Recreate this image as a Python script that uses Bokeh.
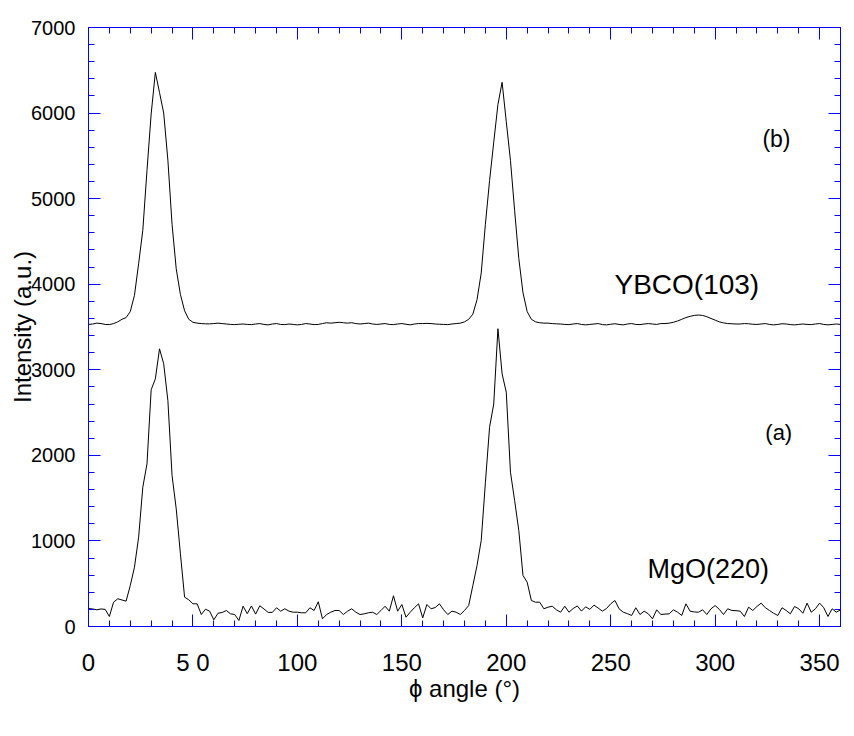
from bokeh.plotting import figure
from bokeh.models import Range1d, LinearAxis, FixedTicker, Label
from bokeh.embed import file_html
from bokeh.resources import INLINE

# phi angle samples (deg)
phi = list(range(0, 361, 2))

# MgO(220) phi-scan intensity (a.u.)
mgo_220 = [
    210, 205, 195, 205, 200, 117, 284, 324, 310, 296,          # 0-18
    479, 693, 1044, 1628, 1901, 2766, 2894, 3245, 3070, 2641,  # 20-38
    1765, 1375, 850, 343, 312, 265, 265, 140, 202, 179,        # 40-58
    78, 155, 164, 187, 148, 140, 70, 237, 150, 240,            # 60-78
    145, 242, 205, 165, 165, 219, 179, 207, 179, 167,          # 80-98
    167, 160, 160, 219, 187, 289, 90, 140, 167, 187,           # 100-118
    187, 140, 179, 207, 167, 140, 148, 160, 167, 140,          # 120-138
    187, 237, 179, 359, 179, 257, 109, 167, 219, 265,          # 140-158
    101, 257, 207, 222, 265, 195, 140, 179, 167, 140,          # 160-178
    187, 245, 479, 713, 1005, 1680, 2329, 2600, 3480, 2953,    # 180-198
    2738, 1803, 1472, 1122, 596, 518, 304, 284, 284, 207,      # 200-218
    226, 237, 195, 167, 237, 167, 210, 240, 180, 230,          # 220-238
    200, 250, 215, 180, 210, 265, 304, 207, 167, 150,          # 240-258
    129, 219, 140, 179, 148, 90, 195, 140, 145, 148,           # 260-278
    195, 167, 129, 265, 179, 170, 167, 195, 140, 207,          # 280-298
    245, 200, 140, 207, 187, 185, 179, 117, 226, 187,          # 300-318
    234, 273, 220, 187, 155, 129, 219, 187, 148, 234,          # 320-338
    207, 155, 273, 167, 207, 273, 219, 117, 207, 167,          # 340-358
    195,                                                       # 360
]

# YBCO(103) phi-scan intensity (a.u.)
ybco_103 = [
    3530, 3535, 3545, 3540, 3530, 3528, 3540, 3560, 3590, 3610,  # 0-18
    3680, 3870, 4240, 4630, 5330, 5990, 6475, 6240, 6000, 5450,  # 20-38
    4700, 4180, 3880, 3690, 3590, 3555, 3545, 3540, 3537, 3537,  # 40-58
    3540, 3545, 3540, 3535, 3530, 3528, 3532, 3535, 3530, 3528,  # 60-78
    3535, 3540, 3530, 3525, 3535, 3540, 3530, 3528, 3535, 3530,  # 80-98
    3525, 3530, 3540, 3535, 3528, 3530, 3540, 3550, 3545, 3550,  # 100-118
    3555, 3550, 3545, 3550, 3540, 3535, 3540, 3545, 3535, 3530,  # 120-138
    3535, 3540, 3530, 3528, 3535, 3540, 3532, 3525, 3535, 3540,  # 140-158
    3540, 3542, 3540, 3535, 3532, 3530, 3528, 3535, 3540, 3545,  # 160-178
    3560, 3590, 3650, 3820, 4130, 4700, 5210, 5660, 6100, 6360,  # 180-198
    5900, 5446, 4860, 4300, 3900, 3680, 3590, 3560, 3550, 3545,  # 200-218
    3545, 3540, 3537, 3535, 3530, 3528, 3535, 3540, 3530, 3525,  # 220-238
    3530, 3535, 3540, 3528, 3525, 3532, 3538, 3530, 3525, 3535,  # 240-258
    3540, 3530, 3528, 3535, 3540, 3535, 3530, 3540, 3540, 3545,  # 260-278
    3555, 3570, 3590, 3610, 3625, 3635, 3640, 3635, 3620, 3600,  # 280-298
    3580, 3560, 3548, 3540, 3538, 3535, 3535, 3540, 3538, 3532,  # 300-318
    3530, 3535, 3540, 3530, 3525, 3530, 3538, 3535, 3528, 3525,  # 320-338
    3530, 3535, 3530, 3528, 3535, 3540, 3530, 3525, 3530, 3535,  # 340-358
    3530,                                                        # 360
]

x_major_ticks = [0, 50, 100, 150, 200, 250, 300, 350]
x_minor_ticks = list(range(0, 361, 10))
y_major_ticks = [0, 1000, 2000, 3000, 4000, 5000, 6000, 7000]
y_minor_ticks = list(range(0, 7001, 200))
x_tick_label_overrides = {50: "5 0"}

FONT = "Liberation Sans"
BLUE = "#0000FF"

p = figure(width=854, height=730, output_backend="svg", toolbar_location=None,
           x_range=Range1d(0, 360), y_range=Range1d(0, 7000),
           x_axis_location=None, y_axis_location=None,
           min_border_left=88, min_border_right=14, min_border_top=27, min_border_bottom=104)
p.grid.visible = False
p.outline_line_color = BLUE
p.outline_line_width = 1
p.background_fill_color = "white"
p.border_fill_color = "white"

def style(ax, labels=True):
    ax.axis_line_color = BLUE
    ax.major_tick_line_color = BLUE
    ax.minor_tick_line_color = BLUE
    ax.major_tick_in = 12
    ax.major_tick_out = 0
    ax.minor_tick_in = 6
    ax.minor_tick_out = 0
    ax.major_label_text_font = FONT
    ax.major_label_text_color = "black"
    ax.axis_label_text_font = FONT
    ax.axis_label_text_font_style = "normal"
    ax.axis_label_text_color = "black"
    if not labels:
        # frame-side axis: ticks only, labels not drawn
        ax.major_label_text_font_size = "1px"
        ax.major_label_text_alpha = 0
        ax.major_label_standoff = 0

xb = LinearAxis(ticker=FixedTicker(ticks=x_major_ticks, minor_ticks=x_minor_ticks),
                axis_label="\u03d5 angle (\u00b0)")
style(xb)
xb.major_label_overrides = x_tick_label_overrides
xb.major_label_text_font_size = "24px"
xb.major_label_standoff = 22
xb.axis_label_text_font_size = "24px"
xb.axis_label_standoff = -4
p.add_layout(xb, "below")

yl = LinearAxis(ticker=FixedTicker(ticks=y_major_ticks, minor_ticks=y_minor_ticks),
                axis_label="Intensity (a.u.)")
style(yl)
yl.major_label_text_font_size = "20px"
yl.major_label_standoff = 13
yl.axis_label_text_font_size = "24px"
yl.axis_label_standoff = -8
p.add_layout(yl, "left")

xt = LinearAxis(ticker=FixedTicker(ticks=x_major_ticks, minor_ticks=x_minor_ticks))
style(xt, labels=False)
p.add_layout(xt, "above")

yr = LinearAxis(ticker=FixedTicker(ticks=y_major_ticks, minor_ticks=y_minor_ticks))
style(yr, labels=False)
p.add_layout(yr, "right")

p.line(phi, ybco_103, line_color="black", line_width=1)
p.line(phi, mgo_220, line_color="black", line_width=1)

for txt, x, y, size in [("(b)", 322.6, 5700, "23px"),
                        ("YBCO(103)", 251.8, 4000, "28px"),
                        ("(a)", 324, 2270, "22px"),
                        ("MgO(220)", 267.6, 670, "27px")]:
    p.add_layout(Label(x=x, y=y, text=txt, text_font=FONT, text_font_size=size,
                       text_baseline="middle", text_align="left", text_color="black"))

open("out.html", "w").write(file_html(p, INLINE))
